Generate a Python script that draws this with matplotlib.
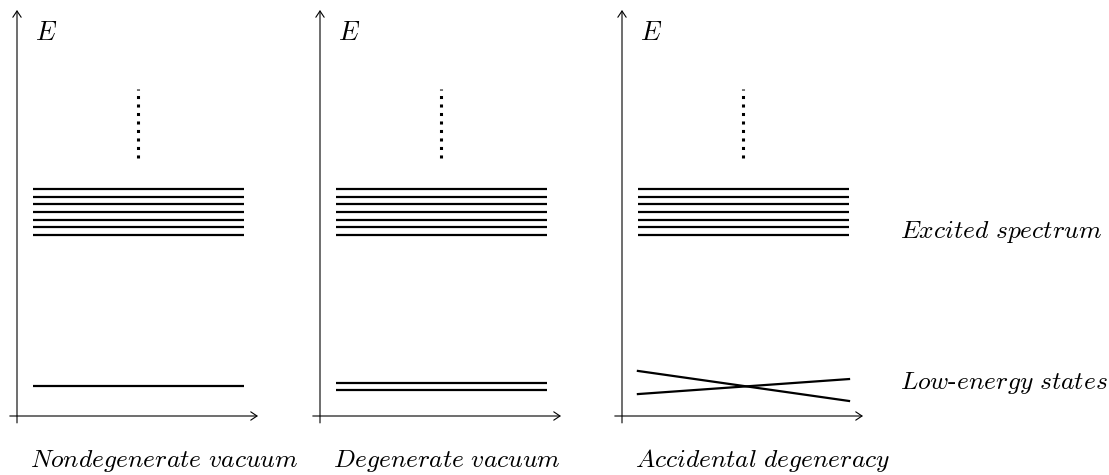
import matplotlib.pyplot as plt

plt.rcParams['mathtext.fontset'] = 'cm'

# energies in units of the axis height (0 = horizontal axis, 1 = arrow tip)
excited_levels = [0.559, 0.539, 0.522, 0.502, 0.483, 0.466, 0.446]
ellipsis_range = [0.635, 0.805]
low_nondegenerate = [0.074]
low_degenerate = [0.081, 0.064]
# accidental degeneracy: two levels that cross, (left, right) energies
low_crossing = [(0.111, 0.037), (0.054, 0.091)]
level_x = [0.066, 0.942]

panel_titles = [r'$\mathit{Nondegenerate\ vacuum}$',
                r'$\mathit{Degenerate\ vacuum}$',
                r'$\mathit{Accidental\ degeneracy}$']
side_labels = [r'$\mathit{Excited\ spectrum}$',
               r'$\mathit{Low}\text{-}\mathit{energy\ states}$']

W, H = 1109, 475
origins_x = [17, 320, 622]
origin_y = 416
fs = 18.4

fig = plt.figure(figsize=(W / 100, H / 100), dpi=100)

axes = []
for x0 in origins_x:
    ax = fig.add_axes([x0 / W, (H - origin_y) / H, 241 / W, 406 / H])
    ax.set_xlim(0, 1)
    ax.set_ylim(0, 1)
    ax.axis('off')
    arrow = dict(arrowstyle='->,head_length=0.45,head_width=0.3', lw=0.8,
                 color='k', shrinkA=0, shrinkB=0)
    ax.annotate('', xy=(1, 0), xytext=(-0.03, 0), arrowprops=arrow,
                annotation_clip=False)
    ax.annotate('', xy=(0, 1), xytext=(0, -0.017), arrowprops=arrow,
                annotation_clip=False)
    ax.text(0.075, 0.943, '$E$', fontsize=19, ha='left', va='center')
    ax.hlines(excited_levels, level_x[0], level_x[1], color='k', lw=1.6)
    ax.plot([sum(level_x) / 2] * 2, ellipsis_range, color='k', lw=2.2,
            ls=(0, (1, 1.78)), dash_capstyle='butt')
    axes.append(ax)

axes[0].hlines(low_nondegenerate, level_x[0], level_x[1], color='k', lw=1.6)
axes[1].hlines(low_degenerate, level_x[0], level_x[1], color='k', lw=1.6)
for e_left, e_right in low_crossing:
    axes[2].plot(level_x, [e_left, e_right], color='k', lw=1.6)

title_x = [30, 333, 635]
for x, t in zip(title_x, panel_titles):
    fig.text(x / W, 1 - 467 / H, t, fontsize=fs, ha='left', va='baseline')

fig.text(900 / W, 1 - 238 / H, side_labels[0], fontsize=fs, ha='left', va='baseline')
fig.text(900 / W, 1 - 389 / H, side_labels[1], fontsize=fs, ha='left', va='baseline')

fig.savefig('out.png', dpi=100)
